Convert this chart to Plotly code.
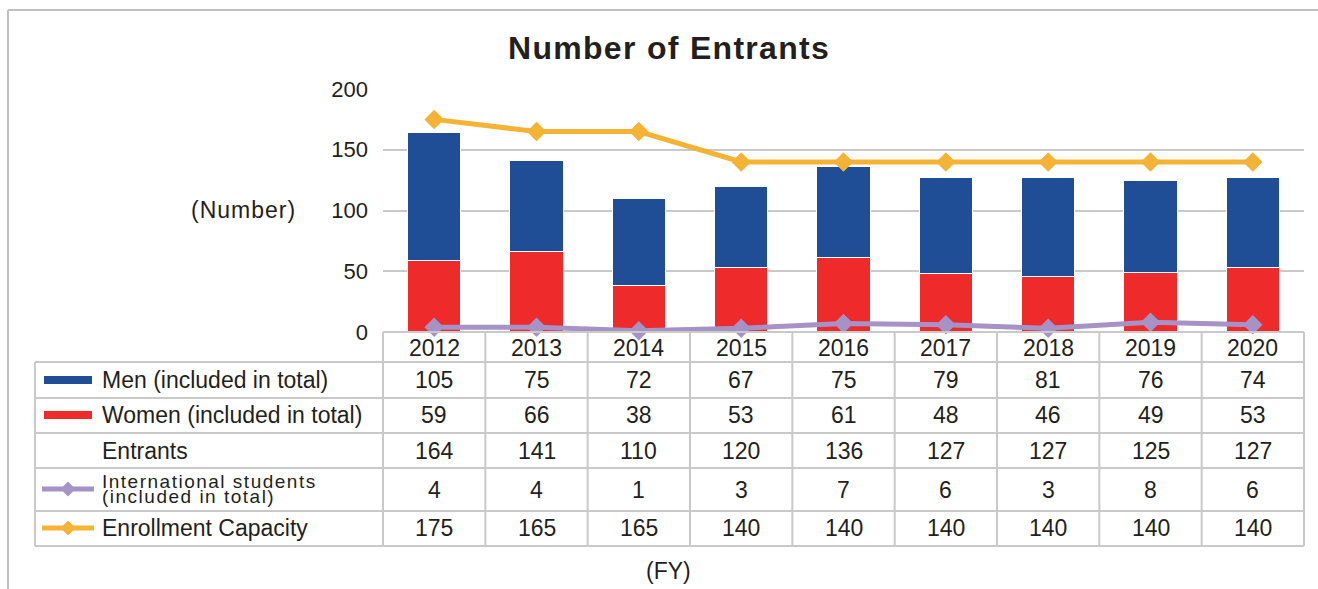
import plotly.graph_objects as go

# ---- data ----
years = ["2012", "2013", "2014", "2015", "2016", "2017", "2018", "2019", "2020"]
men = [105, 75, 72, 67, 75, 79, 81, 76, 74]
women = [59, 66, 38, 53, 61, 48, 46, 49, 53]
entrants = [164, 141, 110, 120, 136, 127, 127, 125, 127]
international = [4, 4, 1, 3, 7, 6, 3, 8, 6]
capacity = [175, 165, 165, 140, 140, 140, 140, 140, 140]
y_ticks = [0, 50, 100, 150, 200]

W, H = 1318, 589
BLUE = "#1F4E97"
RED = "#EE2A2B"
PURPLE = "#A592C6"
ORANGE = "#F5B335"
GRID = "#C9C9C9"
TXT = "#231F20"
FONT = "Liberation Sans, Arial, sans-serif"

# plot area in pixels
PX_L, PX_R = 383, 1304
PY_TOP, PY_BOT = 89, 332


def px(x):
    return x / W


def py(y):
    return 1 - y / H


fig = go.Figure()

xs = list(range(len(years)))
fig.add_trace(go.Bar(x=xs, y=women, name="Women (included in total)",
                     marker=dict(color=RED, line=dict(color="white", width=1)), width=0.52))
fig.add_trace(go.Bar(x=xs, y=men, name="Men (included in total)",
                     marker=dict(color=BLUE, line=dict(color="white", width=1)), width=0.52))
fig.add_trace(go.Scatter(x=xs, y=capacity, mode="lines+markers",
                         line=dict(color=ORANGE, width=5),
                         marker=dict(symbol="diamond", size=15, color=ORANGE),
                         cliponaxis=False, name="Enrollment Capacity"))
fig.add_trace(go.Scatter(x=xs, y=international, mode="lines+markers",
                         line=dict(color=PURPLE, width=5),
                         marker=dict(symbol="diamond", size=15, color=PURPLE),
                         cliponaxis=False, name="International students"))

shapes = []
annotations = []


def hline(x0, x1, y, color=GRID, w=2):
    shapes.append(dict(type="line", xref="paper", yref="paper", x0=px(x0), x1=px(x1),
                       y0=py(y), y1=py(y), line=dict(color=color, width=w), layer="above"))


def vline(x, y0, y1, color=GRID, w=2):
    shapes.append(dict(type="line", xref="paper", yref="paper", x0=px(x), x1=px(x),
                       y0=py(y0), y1=py(y1), line=dict(color=color, width=w), layer="above"))


def text(x, y, s, size=23, xanchor="center", bold=False, spacing=0):
    if spacing:
        s = f'<span style="letter-spacing:{spacing}px">{s}</span>'
    annotations.append(dict(xref="paper", yref="paper", x=px(x), y=py(y), text=s,
                            showarrow=False, xanchor=xanchor, yanchor="middle",
                            font=dict(family=FONT, size=size, color=TXT,
                                      weight="bold" if bold else "normal")))


# outer frame
hline(8, W, 10, color="#C0C0C0", w=2)
vline(8, 10, H, color="#C0C0C0", w=2)

# data table grid
row_lines = [362, 398, 433, 468, 511, 546]
hline(PX_L, PX_R, 332)
for yy in row_lines:
    hline(35, PX_R, yy)
vline(35, 362, 546)
col_w = (PX_R - PX_L) / len(years)
for i in range(len(years) + 1):
    vline(PX_L + i * col_w, 332, 546)

# table values
row_y = {"year": 348, "men": 380, "women": 415, "ent": 451, "intl": 490, "cap": 528}
for i, yr in enumerate(years):
    cx = PX_L + (i + 0.5) * col_w
    text(cx, row_y["year"], yr)
    text(cx, row_y["men"], str(men[i]))
    text(cx, row_y["women"], str(women[i]))
    text(cx, row_y["ent"], str(entrants[i]))
    text(cx, row_y["intl"], str(international[i]))
    text(cx, row_y["cap"], str(capacity[i]))

# row labels with legend keys
LX = 100
text(LX, row_y["men"], "Men (included in total)", xanchor="left")
text(LX, row_y["women"], "Women (included in total)", xanchor="left")
text(LX, row_y["ent"], "Entrants", xanchor="left")
text(LX, 481, "International students", size=19, xanchor="left", spacing=1.5)
text(LX, 496, "(included in total)", size=19, xanchor="left", spacing=1.5)
text(LX, row_y["cap"], "Enrollment Capacity", xanchor="left")

for yc, col in [(row_y["men"], BLUE), (row_y["women"], RED)]:
    shapes.append(dict(type="rect", xref="paper", yref="paper", x0=px(44), x1=px(92),
                       y0=py(yc - 4), y1=py(yc + 4), fillcolor=col, line=dict(width=0),
                       layer="above"))

for yc, col in [(489, PURPLE), (528, ORANGE)]:
    shapes.append(dict(type="line", xref="paper", yref="paper", x0=px(42), x1=px(94),
                       y0=py(yc), y1=py(yc), line=dict(color=col, width=5), layer="above"))
    d = 7.5
    cx = 68
    path = (f"M {px(cx - d)} {py(yc)} L {px(cx)} {py(yc - d)} "
            f"L {px(cx + d)} {py(yc)} L {px(cx)} {py(yc + d)} Z")
    shapes.append(dict(type="path", xref="paper", yref="paper", path=path,
                       fillcolor=col, line=dict(width=0), layer="above"))

# titles
text(669, 48, "Number of Entrants", size=32, bold=True, spacing=1.3)
text(243, 210, "(Number)", size=23, spacing=1)
text(668, 571, "(FY)", size=23)

fig.update_layout(
    template="none",
    width=W, height=H,
    margin=dict(l=0, r=0, t=0, b=0, pad=0, autoexpand=False),
    paper_bgcolor="white", plot_bgcolor="white",
    barmode="stack", showlegend=False,
    shapes=shapes, annotations=annotations,
    xaxis=dict(domain=[px(PX_L), px(PX_R)], range=[-0.5, len(years) - 0.5],
               showticklabels=False, showgrid=False, zeroline=False, showline=False,
               automargin=False, fixedrange=True),
    yaxis=dict(domain=[py(PY_BOT), py(PY_TOP)], range=[0, 200], tickvals=y_ticks,
               ticktext=[str(v) for v in y_ticks],
               showgrid=True, gridcolor=GRID, gridwidth=2, zeroline=False, showline=False,
               ticks="", ticklabelstandoff=14, automargin=False,
               tickfont=dict(family=FONT, size=22, color=TXT), fixedrange=True),
)

fig.write_html("out.html")
